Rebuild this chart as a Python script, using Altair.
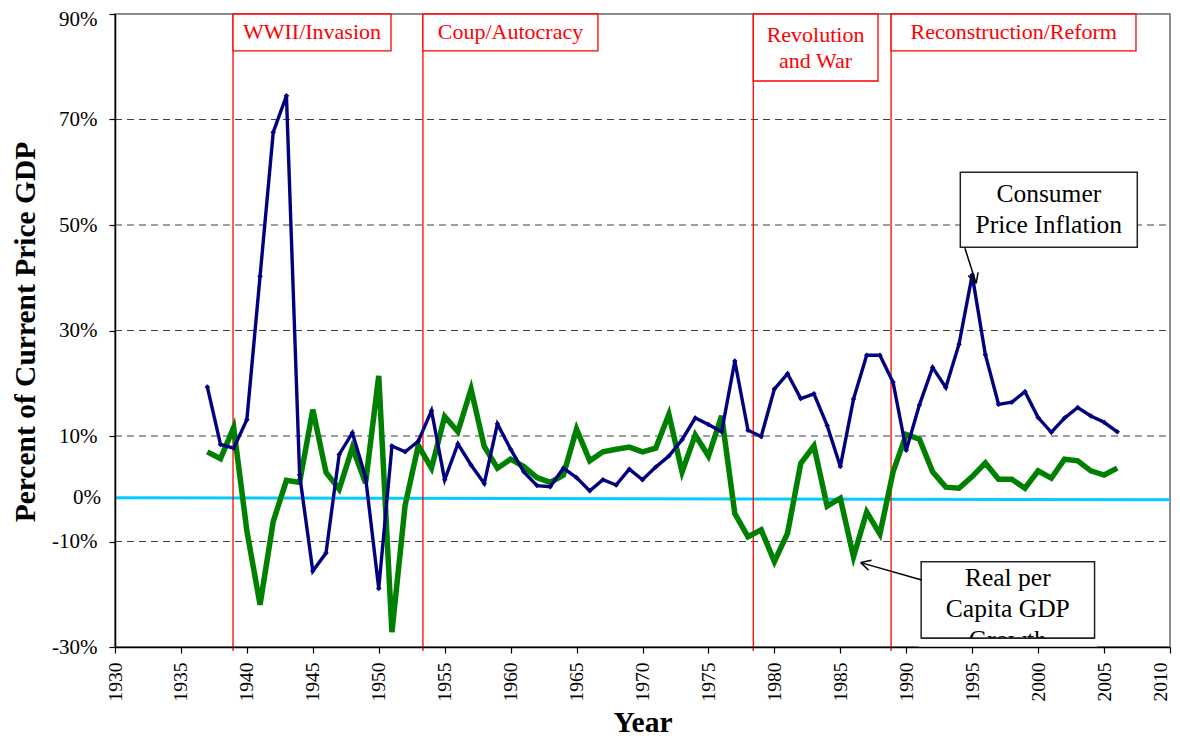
import math
import altair as alt
import pandas as pd

# ---------------- data ----------------
years = list(range(1937, 2007))
cpi = [19.3, 8.4, 7.7, 13.1, 40.3, 67.6, 74.5, 2.6, -15.6, -12.2,
       6.5, 10.6, 2.2, -18.9, 8.1, 7.0, 9.0, 14.8, 1.7, 8.5,
       4.5, 1.0, 12.3, 7.5, 3.2, 0.6, 0.4, 3.9, 2.1, -0.4,
       1.7, 0.7, 3.7, 1.7, 4.1, 6.2, 9.3, 13.4, 12.2, 10.8,
       24.2, 11.1, 9.9, 18.9, 21.8, 17.1, 18.0, 12.0, 4.2, 17.0,
       25.3, 25.3, 20.2, 7.3, 15.9, 23.0, 19.2, 27.4, 40.5, 25.4,
       16.0, 16.4, 18.4, 13.5, 10.7, 13.4, 15.4, 13.8, 12.6, 10.8]
gdp = [7.0, 5.7, 11.6, -8.0, -22.0, -6.2, 1.6, 1.2, 15.0, 3.1,
       -0.1, 7.8, 1.1, 21.4, -27.2, -3.1, 8.2, 3.9, 13.7, 10.8,
       18.9, 8.0, 3.9, 5.6, 4.2, 2.1, 1.2, 2.6, 11.3, 5.3,
       7.0, 7.5, 7.9, 7.0, 7.7, 14.1, 3.2, 10.2, 6.2, 13.8,
       -4.7, -9.1, -7.8, -13.8, -8.4, 4.8, 8.1, -3.3, -1.8, -12.9,
       -4.4, -8.6, 3.2, 10.3, 9.4, 3.2, 0.3, 0.1, 2.3, 4.9,
       1.8, 1.8, 0.1, 3.4, 2.0, 5.6, 5.3, 3.4, 2.6, 3.9]

x_ticks = list(range(1930, 2011, 5))
y_ticks = [-30, -10, 10, 30, 50, 70, 90]
grid_values = [-10, 10, 30, 50, 70]

# period dividers and labels
period_starts = [1938.95, 1953.35, 1978.4, 1988.85]
period_box_end = [1950.93, 1966.62, 1987.86, 2007.42]
period_box_bottom = [83.0, 83.0, 77.3, 83.0]
period_label_text = ["WWII/Invasion", "Coup/Autocracy", "Revolution", "and War",
                     "Reconstruction/Reform"]
period_label_x = [1944.94, 1959.99, 1983.12, 1983.12, 1998.15]
period_label_y = [85.2, 85.2, 84.75, 79.8, 85.2]

# zero reference line
zero_x = [1930, 2010]
zero_y = [-1.7, -2.1]

# annotation boxes
ann_box_x = [1994.1, 1991.13]
ann_box_x2 = [2007.52, 2004.28]
ann_box_y = [60.0, -13.83]
ann_box_y2 = [45.77, -28.35]
ann_text = ["Consumer", "Price Inflation", "Real per", "Capita GDP", "Growth"]
ann_text_x = [2000.81, 2000.81, 1997.7, 1997.7, 1997.7]
ann_text_y = [54.3, 48.45, -18.44, -24.25, -30.1]
# arrows: start (on box) -> tip (at series)
arrow_x0 = [1994.45, 1991.17]
arrow_y0 = [45.58, -17.3]
arrow_x1 = [1995.3, 1986.55]
arrow_y1 = [38.95, -14.0]

# ---------------- layout ----------------
W, H = 1055, 633
XMIN, XMAX, YMIN, YMAX = 1930, 2010, -30, 90
KX = W / (XMAX - XMIN)
KY = H / (YMAX - YMIN)
FONT = "Liberation Serif"

xs = alt.Scale(domain=[XMIN, XMAX], nice=False, zero=False)
ys = alt.Scale(domain=[YMIN, YMAX], nice=False, zero=False)

XAX = alt.Axis(values=x_ticks, format="d", labelAngle=-90, title="Year",
               labelFont=FONT, labelFontSize=19.5, labelColor="black",
               labelPadding=9, tickSize=6, tickColor="black", tickWidth=1.2,
               labelOffset=alt.condition("datum.value == 2010", alt.value(-10), alt.value(0)),
               domainColor="black", domainWidth=1.5, grid=False,
               titleFont=FONT, titleFontSize=29.5, titleFontWeight="bold",
               titleColor="black", titleY=84, titleBaseline="alphabetic",
               zindex=1)
YAX = alt.Axis(values=y_ticks, labelExpr="datum.value + '%'",
               title="Percent of Current Price GDP",
               labelFont=FONT, labelFontSize=21, labelColor="black",
               labelPadding=12, tickSize=6, tickColor="black", tickWidth=1.2,
               labelOffset=alt.condition("datum.value == 90", alt.value(5), alt.value(0)),
               domainColor="black", domainWidth=1.5, grid=False,
               titleFont=FONT, titleFontSize=29.5, titleFontWeight="bold",
               titleColor="black", titleX=-90, titleY=H / 2 + 1,
               titleAngle=-90, titleAlign="center", titleBaseline="middle",
               zindex=1)


def X(f):
    return alt.X(f, type="quantitative", scale=xs, axis=XAX)


def Y(f):
    return alt.Y(f, type="quantitative", scale=ys, axis=YAX)


series = pd.DataFrame({"year": years, "cpi": cpi, "gdp": gdp})

# arrowhead wings (open V)
wing_rows = []
for i in range(len(arrow_x0)):
    px0, py0 = arrow_x0[i] * KX, -arrow_y0[i] * KY
    px1, py1 = arrow_x1[i] * KX, -arrow_y1[i] * KY
    dx, dy = px0 - px1, py0 - py1
    n = math.hypot(dx, dy)
    dx, dy = dx / n, dy / n
    for a in (math.radians(28), -math.radians(28)):
        rx = dx * math.cos(a) - dy * math.sin(a)
        ry = dx * math.sin(a) + dy * math.cos(a)
        wx, wy = px1 + 11 * rx, py1 + 11 * ry
        wing_rows.append({"x": arrow_x1[i], "y": arrow_y1[i],
                          "x2": wx / KX, "y2": -wy / KY})
arrow_rows = [{"x": arrow_x0[i], "y": arrow_y0[i], "x2": arrow_x1[i], "y2": arrow_y1[i]}
              for i in range(len(arrow_x0))] + wing_rows
arrows = pd.DataFrame(arrow_rows)

# ---------------- layers ----------------
grid = alt.Chart(pd.DataFrame({"y": grid_values, "x": [XMIN] * 5, "x2": [XMAX] * 5})).mark_rule(
    color="#404040", strokeWidth=1, strokeDash=[7, 5]
).encode(x=X("x"), x2="x2:Q", y=Y("y"))

zero_line = alt.Chart(pd.DataFrame({"x": [zero_x[0]], "x2": [zero_x[1]],
                                    "y": [zero_y[0]], "y2": [zero_y[1]]})).mark_rule(
    color="#00ccff", strokeWidth=3
).encode(x=X("x"), x2="x2:Q", y=Y("y"), y2="y2:Q")

zero_label = alt.Chart(pd.DataFrame({"t": ["0%"], "x": [XMIN], "y": [zero_y[0]]})).mark_text(
    font=FONT, fontSize=21, color="black", align="right", baseline="middle", dx=-14
).encode(x=X("x"), y=Y("y"), text="t:N")

red_lines = alt.Chart(pd.DataFrame({"x": period_starts})).mark_rule(
    color="#ff0000", strokeWidth=1.3
).encode(x=X("x"), y=alt.value(0), y2=alt.value(H + 4))

red_boxes = alt.Chart(pd.DataFrame({"x": period_starts, "x2": period_box_end,
                                    "y": [YMAX] * 4, "y2": period_box_bottom})).mark_rect(
    fill="white", stroke="#ff0000", strokeWidth=1.3
).encode(x=X("x"), x2="x2:Q", y=Y("y"), y2="y2:Q")

red_text = alt.Chart(pd.DataFrame({"t": period_label_text, "x": period_label_x,
                                   "y": period_label_y})).mark_text(
    font=FONT, fontSize=22, color="#ff0000", align="center", baseline="alphabetic"
).encode(x=X("x"), y=Y("y"), text="t:N")

gdp_line = alt.Chart(series).mark_line(color="#008000", strokeWidth=5.5).encode(
    x=X("year"), y=Y("gdp"))

cpi_line = alt.Chart(series).mark_line(color="#000080", strokeWidth=3.4).encode(
    x=X("year"), y=Y("cpi"))

cpi_pts = alt.Chart(series).mark_point(shape="diamond", filled=True, color="#000080",
                                       size=30, opacity=1).encode(
    x=X("year"), y=Y("cpi"))

ann_boxes = alt.Chart(pd.DataFrame({"x": ann_box_x, "x2": ann_box_x2,
                                    "y": ann_box_y, "y2": ann_box_y2})).mark_rect(
    fill="white", stroke="#222222", strokeWidth=1.5
).encode(x=X("x"), x2="x2:Q", y=Y("y"), y2="y2:Q")

ann_texts = alt.Chart(pd.DataFrame({"t": ann_text, "x": ann_text_x,
                                    "y": ann_text_y})).mark_text(
    font=FONT, fontSize=25.5, color="black", align="center", baseline="alphabetic"
).encode(x=X("x"), y=Y("y"), text="t:N")

# white cover to clip the last line of the GDP annotation at its box edge
cover = alt.Chart(pd.DataFrame({"x": [ann_box_x[1] - 0.2], "x2": [ann_box_x2[1] + 0.2],
                                "y": [ann_box_y2[1] - 0.1], "y2": [YMIN]})).mark_rect(
    fill="white"
).encode(x=X("x"), x2="x2:Q", y=Y("y"), y2="y2:Q")

cover_edge = alt.Chart(pd.DataFrame({"x": [ann_box_x[1]], "x2": [ann_box_x2[1]],
                                     "y": [ann_box_y2[1]]})).mark_rule(
    color="#222222", strokeWidth=1.5
).encode(x=X("x"), x2="x2:Q", y=Y("y"))

arrow_lines = alt.Chart(arrows).mark_rule(color="black", strokeWidth=1.5).encode(
    x=X("x"), x2="x2:Q", y=Y("y"), y2="y2:Q")

chart = alt.layer(
    grid, zero_line, zero_label, red_lines, red_boxes, red_text,
    gdp_line, cpi_line, cpi_pts, ann_boxes, ann_texts, cover, cover_edge, arrow_lines
).properties(
    width=W, height=H,
    autosize=alt.AutoSizeParams(type="none"),
    padding={"left": 107, "top": 6, "right": 2, "bottom": 91},
    background="white",
).configure_view(stroke="#8c8c8c", strokeWidth=2)

chart.save("out.html", embed_options={"renderer": "svg", "actions": False})
